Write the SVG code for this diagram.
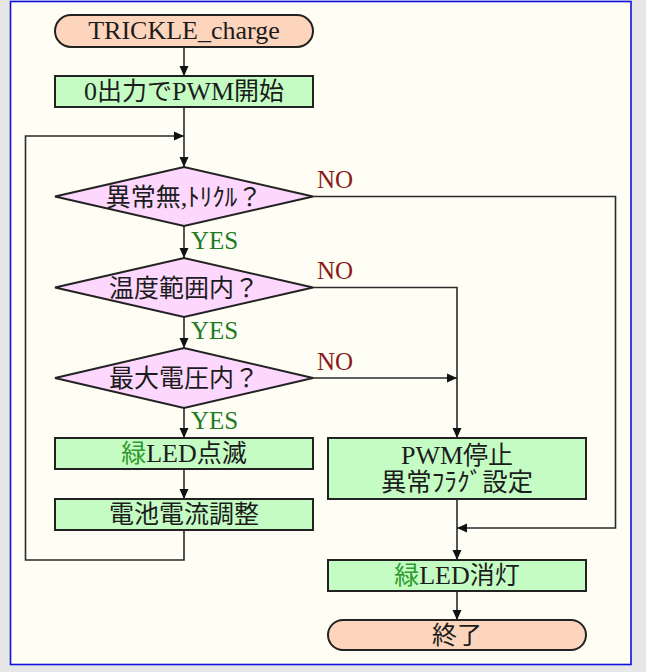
<svg xmlns="http://www.w3.org/2000/svg" width="646" height="672" viewBox="0 0 646 672">
  <defs>
    <marker id="arr" viewBox="0 0 10 10" refX="10" refY="5" markerWidth="10" markerHeight="10" markerUnits="userSpaceOnUse" orient="auto">
      <path d="M0,0.5 L10,5 L0,9.5 Z" fill="#111"/>
    </marker>
    <style>
      .term { fill: #fdd5bd; stroke: #222; stroke-width: 2; }
      .proc { fill: #c4fcc4; stroke: #222; stroke-width: 2; }
      .dec  { fill: #fdd7fd; stroke: #222; stroke-width: 2; }
      .t { font-family: "Liberation Serif", "Noto Sans CJK JP", serif; font-size: 26px; fill: #1c1c1c; text-anchor: middle; }
      .j { font-family: "Noto Sans CJK JP", "Liberation Serif", sans-serif; font-size: 25px; }
      .g { fill: #2e9a2e; }
      .yes { font-family: "Liberation Serif", serif; font-size: 25px; fill: #1e7b1e; }
      .no  { font-family: "Liberation Serif", serif; font-size: 25px; fill: #8b1a1a; }
      .conn path { fill: none; stroke: #2a2a2a; stroke-width: 1.6; }
    </style>
  </defs>

  <!-- page background and frame -->
  <rect x="0" y="0" width="646" height="672" fill="#e7e7e7"/>
  <rect x="10.5" y="1.5" width="620.5" height="663" fill="#fefef5" stroke="#1010e0" stroke-width="1.6"/>

  <!-- connectors -->
  <g id="connectors" class="conn">
    <path d="M184,47 V76" marker-end="url(#arr)"/>
    <path d="M184,107 V167" marker-end="url(#arr)"/>
    <path d="M184,530 V560 H25.5 V136 H184" marker-end="url(#arr)"/>
    <path d="M184,226 V258" marker-end="url(#arr)"/>
    <path d="M184,317 V348" marker-end="url(#arr)"/>
    <path d="M184,408 V438" marker-end="url(#arr)"/>
    <path d="M184,469 V499" marker-end="url(#arr)"/>
    <path d="M313,196.5 H615.5 V528 H457" marker-end="url(#arr)"/>
    <path d="M313,287.5 H457 V438" marker-end="url(#arr)"/>
    <path d="M313,378 H457" marker-end="url(#arr)"/>
    <path d="M457,499 V560" marker-end="url(#arr)"/>
    <path d="M457,591 V620" marker-end="url(#arr)"/>
  </g>

  <!-- branch labels -->
  <g id="labels">
    <text class="yes" x="191" y="249">YES</text>
    <text class="yes" x="191" y="339">YES</text>
    <text class="yes" x="191" y="429">YES</text>
    <text class="no" x="317" y="188">NO</text>
    <text class="no" x="317" y="279">NO</text>
    <text class="no" x="317" y="370">NO</text>
  </g>

  <g id="start">
    <rect class="term" x="55" y="15" width="258" height="32" rx="16"/>
    <text class="t" x="184" y="39">TRICKLE_charge</text>
  </g>

  <g id="pwm_start">
    <rect class="proc" x="55" y="76" width="258" height="31"/>
    <text class="t" x="184" y="99.5">0<tspan class="j">出力で</tspan>PWM<tspan class="j">開始</tspan></text>
  </g>

  <g id="check_fault">
    <polygon class="dec" points="55,196.5 184,167 313,196.5 184,226"/>
    <text class="t" x="184" y="205.5"><tspan class="j">異常無</tspan>,<tspan class="j">ﾄﾘｸﾙ？</tspan></text>
  </g>

  <g id="check_temp">
    <polygon class="dec" points="55,287.5 184,258 313,287.5 184,317"/>
    <text class="t j" x="184" y="296.5">温度範囲内？</text>
  </g>

  <g id="check_volt">
    <polygon class="dec" points="55,378 184,348 313,378 184,408"/>
    <text class="t j" x="184" y="387">最大電圧内？</text>
  </g>

  <g id="led_blink">
    <rect class="proc" x="55" y="438" width="258" height="31"/>
    <text class="t" x="184" y="462"><tspan class="j g">緑</tspan>LED<tspan class="j">点滅</tspan></text>
  </g>

  <g id="current_adjust">
    <rect class="proc" x="55" y="499" width="258" height="31"/>
    <text class="t j" x="184" y="523">電池電流調整</text>
  </g>

  <g id="pwm_stop">
    <rect class="proc" x="328" y="438" width="258" height="61"/>
    <text class="t" x="457" y="464">PWM<tspan class="j">停止</tspan><tspan class="j" x="457" y="491" textLength="152" lengthAdjust="spacingAndGlyphs">異常ﾌﾗｸﾞ設定</tspan></text>
  </g>

  <g id="led_off">
    <rect class="proc" x="328" y="560" width="258" height="31"/>
    <text class="t" x="457" y="584"><tspan class="j g">緑</tspan>LED<tspan class="j">消灯</tspan></text>
  </g>

  <g id="end">
    <rect class="term" x="328" y="620" width="258" height="30" rx="15"/>
    <text class="t j" x="457" y="643.5">終了</text>
  </g>
</svg>
